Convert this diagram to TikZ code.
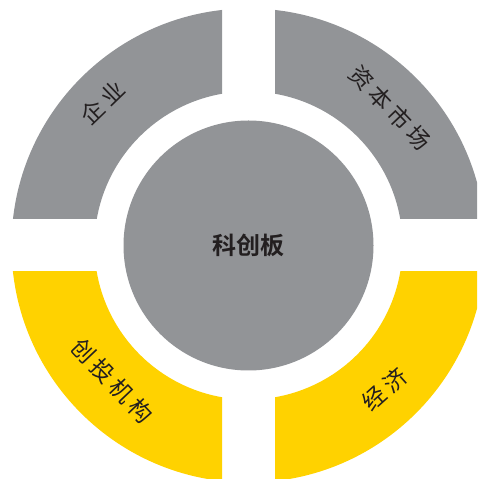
\documentclass[tikz,border=0pt]{standalone}
\usepackage{fontspec}
\newfontfamily\cjk{Noto Sans CJK SC}[BoldFont={Noto Sans CJK SC Bold}]
\newfontfamily\cjkls{Noto Sans CJK SC}[LetterSpace=20]
\definecolor{ringgray}{HTML}{929497}
\definecolor{ringyellow}{HTML}{FFD200}
\definecolor{txt}{HTML}{231F20}
\tikzset{
  ringlabel/.style={text=txt, font=\cjkls\fontsize{23}{23}\selectfont, inner sep=0pt},
  hublabel/.style={text=txt, font=\cjk\bfseries\fontsize{24}{24}\selectfont, inner sep=0pt}
}
\begin{document}
\begin{tikzpicture}[x=1pt,y=1pt]
\useasboundingbox (0,0) rectangle (477,479);
\coordinate (c) at (248.5,233.5);
\foreach \xa/\ya/\xb/\yb/\col in {0/260/222/479/ringgray, 275/260/477/479/ringgray, 0/0/222/207/ringyellow, 275/0/477/207/ringyellow}{
  \begin{scope}
    \clip (\xa,\ya) rectangle (\xb,\yb);
    \fill[\col, even odd rule] (c) circle (237) (c) circle (154);
  \end{scope}
}
\fill[ringgray] (c) circle (125);
\node[hublabel] (hub) at (c) {科创板};
\node[ringlabel, rotate=44] (qiye) at (102.5,376.5) {企业};
\node[ringlabel, rotate=-46.5] (ziben) at (390.5,371) {资本市场};
\node[ringlabel, rotate=-46.5] (chuangtou) at (112,98.5) {创投机构};
\node[ringlabel, rotate=42] (jingji) at (384.5,90) {经济};
\end{tikzpicture}
\end{document}
